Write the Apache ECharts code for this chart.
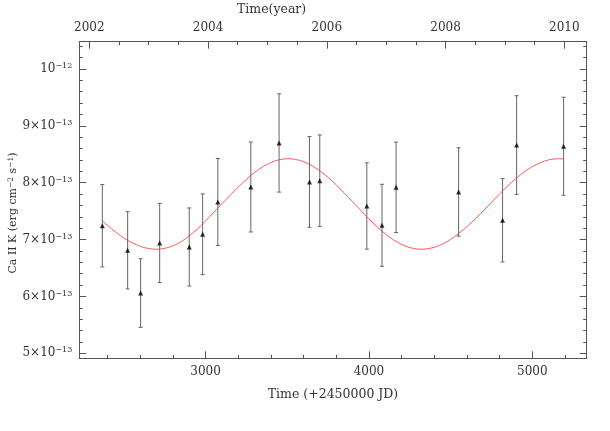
<!DOCTYPE html>
<html>
<head>
<meta charset="utf-8">
<script src="https://cdn.jsdelivr.net/npm/echarts@6/dist/echarts.min.js"></script>
<style>html,body{margin:0;padding:0;background:#fff}#c{width:610px;height:431px}</style>
</head>
<body>
<div id="c"></div>
<script>
// Observation times (JD - 2450000)
const obsJD = [2368, 2523, 2602.5, 2719, 2900, 2982, 3075, 3277, 3450, 3636, 3699, 3987, 4080, 4166, 4549, 4818, 4904, 5191.5];
// Ca II K flux in units of 1e-13 erg cm^-2 s^-1
const obsFlux = [7.244, 6.811, 6.060, 6.940, 6.870, 7.093, 7.661, 7.925, 8.699, 8.013, 8.036, 7.591, 7.251, 7.919, 7.837, 7.339, 8.663, 8.641];
const obsErr = [0.724, 0.680, 0.604, 0.695, 0.686, 0.710, 0.765, 0.791, 0.864, 0.798, 0.804, 0.759, 0.721, 0.795, 0.777, 0.733, 0.867, 0.862];
// Fitted curve
const fitJD = [2368, 2450, 2523, 2600, 2650, 2700, 2750, 2800, 2850, 2900, 2950, 3000, 3050, 3100, 3150, 3200, 3250, 3300, 3350, 3400, 3450, 3505,
  3550, 3600, 3650, 3700, 3750, 3800, 3850, 3900, 3950, 4000, 4050, 4100, 4150, 4200, 4250, 4300, 4320,
  4350, 4400, 4450, 4500, 4550, 4600, 4650, 4700, 4750, 4800, 4850, 4900, 4950, 5000, 5050, 5100, 5150, 5192];
const fitFlux = [7.330, 7.129, 6.985, 6.881, 6.843, 6.830, 6.845, 6.890, 6.962, 7.065, 7.185, 7.330, 7.480, 7.630, 7.778, 7.925, 8.059, 8.181, 8.280, 8.356, 8.404, 8.422,
  8.410, 8.369, 8.301, 8.207, 8.093, 7.961, 7.815, 7.664, 7.511, 7.362, 7.224, 7.100, 6.996, 6.914, 6.859, 6.832, 6.830,
  6.835, 6.865, 6.922, 7.004, 7.107, 7.228, 7.362, 7.507, 7.655, 7.803, 7.944, 8.074, 8.189, 8.283, 8.355, 8.402, 8.421, 8.420];
// Axis ticks
const xMajor = [3000, 4000, 5000];
const xMinor = [2400, 2600, 2800, 3200, 3400, 3600, 3800, 4200, 4400, 4600, 4800, 5200];
const yearMajor = [2002, 2004, 2006, 2008, 2010];
const yearMinor = [2002.5, 2003, 2003.5, 2004.5, 2005, 2005.5, 2006.5, 2007, 2007.5, 2008.5, 2009, 2009.5];
const yMajor = [5, 6, 7, 8, 9, 10];
const yMinor = [5.2, 5.4, 5.6, 5.8, 6.2, 6.4, 6.6, 6.8, 7.2, 7.4, 7.6, 7.8, 8.2, 8.4, 8.6, 8.8, 9.2, 9.4, 9.6, 9.8, 10.2, 10.4];

const X_MIN = 2227, X_MAX = 5333;
const YEAR_MIN = 2001.832, YEAR_MAX = 2010.377;
const Y_MIN = 4.912, Y_MAX = 10.48;

const FONT = 'DejaVu Serif';
const TXT = '#333';
const LINE = '#555';

const chart = echarts.init(document.getElementById('c'), null, {renderer: 'canvas'});

function xAx(extra) {
  return Object.assign({
    type: 'value', min: X_MIN, max: X_MAX, splitLine: {show: false},
    axisLine: {show: true, lineStyle: {color: LINE, width: 1}},
    axisTick: {show: false}, axisLabel: {show: false}
  }, extra);
}
function yAx(extra) {
  return Object.assign({
    type: 'value', min: Y_MIN, max: Y_MAX, splitLine: {show: false},
    axisLine: {show: true, lineStyle: {color: LINE, width: 1}},
    axisTick: {show: false}, axisLabel: {show: false}
  }, extra);
}

const errData = obsJD.map((x, i) => [x, obsFlux[i] - obsErr[i], obsFlux[i] + obsErr[i]]);

const option = {
  animation: false,
  backgroundColor: '#fff',
  title: {
    text: 'Time(year)', left: 237, top: 3, padding: 0,
    textStyle: {fontFamily: FONT, fontSize: 12.5, fontWeight: 'normal', color: TXT}
  },
  grid: {left: 79.3, right: 23.3, top: 41.7, bottom: 72.7, containLabel: false, outerBoundsMode: 'none'},
  xAxis: [
    xAx({
      position: 'bottom',
      name: 'Time (+2450000 JD)', nameLocation: 'middle', nameGap: 30, nameMoveOverlap: false,
      nameTextStyle: {fontFamily: FONT, fontSize: 12.5, color: TXT},
      axisTick: {show: true, inside: true, length: 7, customValues: xMajor, lineStyle: {color: LINE}},
      axisLabel: {show: true, customValues: xMajor, margin: 8, fontFamily: FONT, fontSize: 12, color: TXT,
        formatter: v => String(Math.round(v))}
    }),
    xAx({
      position: 'bottom',
      axisTick: {show: true, inside: true, length: 3.5, customValues: xMinor, lineStyle: {color: LINE}}
    }),
    {
      type: 'value', position: 'top', min: YEAR_MIN, max: YEAR_MAX, splitLine: {show: false},
      axisLine: {show: true, lineStyle: {color: LINE, width: 1}},
      axisTick: {show: true, inside: true, length: 7, customValues: yearMajor, lineStyle: {color: LINE}},
      axisLabel: {show: true, customValues: yearMajor, margin: 8, fontFamily: FONT, fontSize: 12, color: TXT,
        formatter: v => String(Math.round(v))}
    },
    {
      type: 'value', position: 'top', min: YEAR_MIN, max: YEAR_MAX, splitLine: {show: false},
      axisLine: {show: false},
      axisTick: {show: true, inside: true, length: 3.5, customValues: yearMinor, lineStyle: {color: LINE}},
      axisLabel: {show: false}
    }
  ],
  yAxis: [
    yAx({
      position: 'left',
      name: '{n|Ca II K (erg cm}{s|−2}{n| s}{s|−1}{n|)}', nameLocation: 'middle', nameGap: 61, nameMoveOverlap: false,
      nameTextStyle: {
        fontFamily: FONT, fontSize: 11, color: TXT, padding: [0, 26, 0, 0],
        rich: {
          n: {fontFamily: FONT, fontSize: 11, color: TXT},
          s: {fontFamily: FONT, fontSize: 7.5, color: TXT, verticalAlign: 'top'}
        }
      },
      axisTick: {show: true, inside: true, length: 7, customValues: yMajor, lineStyle: {color: LINE}},
      axisLabel: {
        show: true, customValues: yMajor, margin: 7,
        formatter: v => Math.round(v) === 10 ? '{b|10}{s|−12}' : '{b|' + Math.round(v) + '×10}{s|−13}',
        rich: {
          b: {fontFamily: FONT, fontSize: 12, color: TXT, lineHeight: 14},
          s: {fontFamily: FONT, fontSize: 8, color: TXT, verticalAlign: 'top'}
        }
      }
    }),
    yAx({position: 'left',
      axisTick: {show: true, inside: true, length: 3.5, customValues: yMinor, lineStyle: {color: LINE}}}),
    yAx({position: 'right',
      axisTick: {show: true, inside: true, length: 7, customValues: yMajor, lineStyle: {color: LINE}}}),
    yAx({position: 'right',
      axisTick: {show: true, inside: true, length: 3.5, customValues: yMinor, lineStyle: {color: LINE}}})
  ],
  series: [
    {
      type: 'line', xAxisIndex: 0, yAxisIndex: 0,
      data: fitJD.map((x, i) => [x, fitFlux[i]]),
      smooth: 0.3, showSymbol: false, symbol: 'none',
      lineStyle: {color: '#ff5a5a', width: 1}, z: 2
    },
    {
      type: 'custom', xAxisIndex: 0, yAxisIndex: 0,
      data: errData,
      renderItem: (params, api) => {
        const x = api.value(0);
        const lo = api.coord([x, api.value(1)]);
        const hi = api.coord([x, api.value(2)]);
        const cap = 2;
        const st = {stroke: '#666', lineWidth: 1};
        return {
          type: 'group',
          children: [
            {type: 'line', shape: {x1: lo[0], y1: lo[1], x2: hi[0], y2: hi[1]}, style: st},
            {type: 'line', shape: {x1: lo[0] - cap, y1: lo[1], x2: lo[0] + cap, y2: lo[1]}, style: st},
            {type: 'line', shape: {x1: hi[0] - cap, y1: hi[1], x2: hi[0] + cap, y2: hi[1]}, style: st}
          ]
        };
      },
      z: 3
    },
    {
      type: 'scatter', xAxisIndex: 0, yAxisIndex: 0,
      data: obsJD.map((x, i) => [x, obsFlux[i]]),
      symbol: 'triangle', symbolSize: 5,
      itemStyle: {color: '#000'}, z: 4
    }
  ]
};
chart.setOption(option);
</script>
</body>
</html>
